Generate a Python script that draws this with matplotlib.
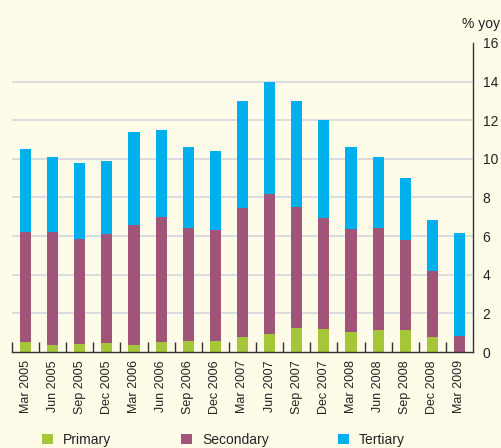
import matplotlib
matplotlib.use("Agg")
import matplotlib.pyplot as plt
from matplotlib.patches import Patch
import numpy as np

# Quarterly labels
quarters = [
    "Mar 2005", "Jun 2005", "Sep 2005", "Dec 2005",
    "Mar 2006", "Jun 2006", "Sep 2006", "Dec 2006",
    "Mar 2007", "Jun 2007", "Sep 2007", "Dec 2007",
    "Mar 2008", "Jun 2008", "Sep 2008", "Dec 2008",
    "Mar 2009",
]

# Contributions to growth (% yoy)
primary = [0.50, 0.35, 0.40, 0.45, 0.35, 0.50, 0.55, 0.55, 0.80, 0.95,
           1.22, 1.18, 1.06, 1.12, 1.12, 0.80, 0.00]
secondary = [5.72, 5.87, 5.45, 5.66, 6.23, 6.49, 5.87, 5.77, 6.66, 7.25,
             6.29, 5.76, 5.31, 5.30, 4.68, 3.40, 0.82]
tertiary = [4.30, 3.88, 3.94, 3.79, 4.82, 4.51, 4.20, 4.09, 5.56, 5.80,
            5.49, 5.08, 4.25, 3.68, 3.20, 2.64, 5.35]

series_names = ["Primary", "Secondary", "Tertiary"]
colors = ["#A6C63A", "#A05478", "#00B0EC"]
bg = "#FEFBE9"

plt.rcParams["font.family"] = ["Liberation Sans", "DejaVu Sans"]

fig = plt.figure(figsize=(5.02, 4.48), dpi=100, facecolor=bg)
ax = fig.add_axes([12 / 502, 96 / 448, 461 / 502, 309 / 448])
ax.set_facecolor(bg)

x = np.arange(len(quarters))
p = np.array(primary)
s = np.array(secondary)
t = np.array(tertiary)

ax.bar(x, p, width=0.41, color=colors[0], zorder=2)
ax.bar(x, s, width=0.41, bottom=p, color=colors[1], zorder=2)
ax.bar(x, t, width=0.41, bottom=p + s, color=colors[2], zorder=2)

ax.set_xlim(-0.5, len(quarters) - 0.5)
ax.set_ylim(0, 16)

# gridlines
for yv in range(2, 16, 2):
    ax.axhline(yv, color="#DADDE0", lw=1.4, zorder=1)

# spines
for side in ["top", "left"]:
    ax.spines[side].set_visible(False)
ax.spines["bottom"].set_color("#333333")
ax.spines["bottom"].set_linewidth(1.0)
ax.spines["bottom"].set_zorder(3)
ax.spines["right"].set_color("#333333")
ax.spines["right"].set_linewidth(1.0)

# y axis on right
ax.yaxis.tick_right()
ax.set_yticks(range(0, 17, 2))
ax.tick_params(axis="y", length=0, pad=7, labelsize=10, labelcolor="#222222")

# x ticks: labels at bar centres, small marks between bars
ax.set_xticks(x)
ax.set_xticklabels(quarters, rotation=90, fontsize=9, color="#222222")
ax.tick_params(axis="x", which="major", length=0, pad=6)
ax.set_xticks(np.arange(-0.5, len(quarters) - 0.5, 1), minor=True)
ax.tick_params(axis="x", which="minor", direction="in", length=7,
               width=1.0, color="#333333")

fig.text(500 / 502, 1 - 24 / 448, "% yoy", ha="right", va="center",
         fontsize=10, color="#222222")

handles = [Patch(facecolor=c, edgecolor="none") for c in colors]
fig.legend(handles, series_names, loc="center left",
           bbox_to_anchor=(42 / 502, 1 - 440 / 448), ncol=3, frameon=False,
           fontsize=10, handlelength=0.8, handleheight=0.75,
           handletextpad=0.72, columnspacing=5.0, borderpad=0,
           borderaxespad=0, labelcolor="#222222")

fig.savefig("out.png", dpi=100, facecolor=bg)
